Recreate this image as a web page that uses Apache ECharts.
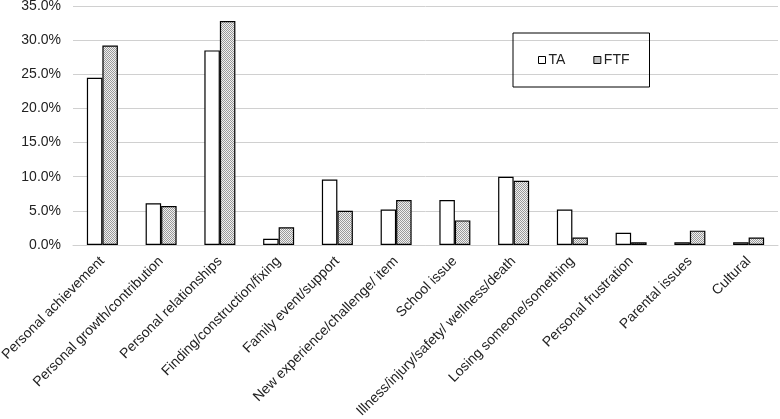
<!DOCTYPE html>
<html><head><meta charset="utf-8">
<script src="https://cdn.jsdelivr.net/npm/echarts@6/dist/echarts.min.js"></script>
<style>html,body{margin:0;padding:0;background:#fff}#c{width:780px;height:419px}</style>
</head><body><div id="c"></div>
<script>
var categories = ["Personal achievement","Personal growth/contribution","Personal relationships","Finding/construction/fixing","Family event/support","New experience/challenge/ item","School issue","Illness/injury/safety/ wellness/death","Losing someone/something","Personal frustration","Parental issues","Cultural"];
var taValues = [24.5, 6.1, 28.5, 0.9, 9.6, 5.2, 6.6, 10.0, 5.2, 1.8, 0.4, 0.4];
var ftfValues = [29.2, 5.7, 32.8, 2.6, 5.0, 6.6, 3.6, 9.4, 1.1, 0.4, 2.1, 1.1];
var yTicks = [0, 5, 10, 15, 20, 25, 30, 35];

var pc = document.createElement('canvas'); pc.width = 2; pc.height = 2;
var g = pc.getContext('2d');
g.fillStyle = '#f0f0f0'; g.fillRect(0,0,2,2);
g.fillStyle = '#9a9a9a'; g.fillRect(0,0,1,1); g.fillRect(1,1,1,1);
var pattern = {image: pc, repeat: 'repeat'};

var chart = echarts.init(document.getElementById('c'), null, {renderer: 'canvas'});
chart.setOption({
  animation: false,
  grid: {left: 73, right: 2, top: 6, bottom: 174, containLabel: false, outerBoundsMode: 'none'},
  legend: {
    left: 513, top: 33, orient: 'horizontal',
    borderColor: '#000', borderWidth: 1,
    padding: [20, 20, 20, 25],
    itemWidth: 7, itemHeight: 7, itemGap: 28,
    textStyle: {fontFamily: 'Liberation Sans, Arial', fontSize: 14, color: '#222', padding: [0,0,0,-2]},
    data: [
      {name: 'TA', icon: 'rect', itemStyle: {color: '#fff', borderColor: '#000', borderWidth: 1}},
      {name: 'FTF', icon: 'rect', itemStyle: {color: pattern, borderColor: '#000', borderWidth: 1}}
    ]
  },
  xAxis: {
    type: 'category', data: categories,
    axisLine: {lineStyle: {color: '#d0d0d0', width: 1}},
    axisTick: {show: false},
    axisLabel: {rotate: 45, interval: 0, fontFamily: 'Liberation Sans, Arial', fontSize: 14, color: '#222', margin: 14}
  },
  yAxis: {
    type: 'value', min: 0, max: 35, interval: 5,
    axisLine: {show: false}, axisTick: {show: false},
    splitLine: {lineStyle: {color: '#d0d0d0', width: 1}},
    axisLabel: {formatter: function(v){ return v.toFixed(1) + '%'; }, fontFamily: 'Liberation Sans, Arial', fontSize: 14, color: '#222', margin: 12}
  },
  series: [
    {name: 'TA', type: 'bar', data: taValues, barWidth: 15.5, barGap: '0%',
     itemStyle: {color: '#fff', borderColor: '#000', borderWidth: 1.2}},
    {name: 'FTF', type: 'bar', data: ftfValues, barWidth: 15.5, barGap: '0%',
     itemStyle: {color: pattern, borderColor: '#000', borderWidth: 1.2}}
  ]
});
</script></body></html>
